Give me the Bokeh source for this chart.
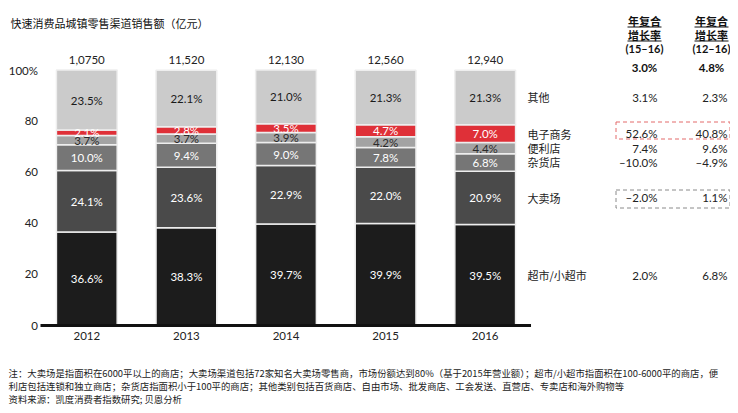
import numpy as np
from bokeh.plotting import figure
from bokeh.models import Range1d, ColumnDataSource
from bokeh.embed import file_html
from bokeh.resources import INLINE
from bokeh.core.properties import value

# ---------------- data ----------------
years = ["2012", "2013", "2014", "2015", "2016"]
totals = ["1,0750", "11,520", "12,130", "12,560", "12,940"]
channels = ["超市/小超市", "大卖场", "杂货店", "便利店", "电子商务", "其他"]
supermarket = [36.6, 38.3, 39.7, 39.9, 39.5]
hypermarket = [24.1, 23.6, 22.9, 22.0, 20.9]
grocery = [10.0, 9.4, 9.0, 7.8, 6.8]
convenience = [3.7, 3.7, 3.9, 4.2, 4.4]
ecommerce = [2.1, 2.8, 3.5, 4.7, 7.0]
others = [23.5, 22.1, 21.0, 21.3, 21.3]
cagr_15_16 = ["2.0%", "–2.0%", "–10.0%", "7.4%", "52.6%", "3.1%"]
cagr_12_16 = ["6.8%", "1.1%", "–4.9%", "9.6%", "40.8%", "2.3%"]
total_cagr = ["3.0%", "4.8%"]
header_periods = ["(15–16)", "(12–16)"]
y_ticks = [0, 20, 40, 60, 80, 100]
y_tick_labels = ["0", "20", "40", "60", "80", "100%"]
title = "快速消费品城镇零售渠道销售额（亿元）"
notes = [
    "注：大卖场是指面积在6000平以上的商店；大卖场渠道包括72家知名大卖场零售商，市场份额达到80%（基于2015年营业额）；超市/小超市指面积在100-6000平的商店，便",
    "利店包括连锁和独立商店；杂货店指面积小于100平的商店；其他类别包括百货商店、自由市场、批发商店、工会发送、直营店、专卖店和海外购物等",
    "资料来源：凯度消费者指数研究; 贝恩分析",
]

# ---------------- styles ----------------
colors = ["#1c1c1c", "#4a4a4a", "#767676", "#a3a3a3", "#df3038", "#cbcbcb"]
label_colors = ["white", "white", "white", "#2a2a2a", "white", "#1a1a1a"]
CJK = value("Noto Sans CJK SC")
NUM = value("Lato")

# pixel helpers for placing annotation text
PX_X = 99.6   # px per category
PX_Y = 2.555  # px per percent
def wx(px):
    return (px - 86.3) / PX_X
def wy(py):
    return (325.0 - py) / PX_Y

W, H = 730, 405
p = figure(width=W, height=H, output_backend="svg", toolbar_location=None,
           x_range=Range1d(wx(0), wx(W)), y_range=Range1d(wy(H), wy(0)),
           x_axis_location=None, y_axis_location=None,
           min_border_left=0, min_border_right=0, min_border_top=0,
           min_border_bottom=0, outline_line_color=None,
           background_fill_color="white", border_fill_color="white")
p.grid.visible = False

xs = list(range(len(years)))
series = [supermarket, hypermarket, grocery, convenience, ecommerce, others]
keys = ["s%d" % i for i in range(len(series))]
src = ColumnDataSource(dict(x=xs, **{k: v for k, v in zip(keys, series)}))
p.vbar_stack(keys, x="x", width=0.61, color=colors, line_color="#eeeeee",
             line_width=1.5, source=src)

# y tick labels
p.text(x=[wx(37.5)] * len(y_ticks), y=y_ticks, text=y_tick_labels,
       text_align="right", text_baseline="middle", text_font=NUM,
       text_font_size="11.5px", text_color="#222222")

# segment labels
arr = np.array(series)
cum = np.cumsum(arr, axis=0)
mids = cum - arr / 2
for i in range(len(series)):
    s = ColumnDataSource(dict(x=xs, y=list(mids[i]),
                              t=["%.1f%%" % v for v in series[i]]))
    p.text(x="x", y="y", text="t", source=s, text_align="center",
           text_baseline="middle", text_font=NUM, text_font_size="11.5px",
           text_color=label_colors[i])

# totals above bars
tops = cum[-1]
p.text(x=xs, y=list(tops + 4.0), text=totals, text_align="center",
       text_baseline="middle", text_font=NUM, text_font_size="11.5px",
       text_color="#222222")

# years
p.text(x=xs, y=[wy(335)] * len(xs), text=years, text_align="center",
       text_baseline="middle", text_font=NUM, text_font_size="11.5px",
       text_color="#222222")

# baseline
p.segment(x0=[wx(40)], y0=[0], x1=[len(years) - 1 + 0.46], y1=[0],
          line_color="#111111", line_width=3)

# right-hand table rows aligned to last bar's segments
row_y = list(mids[:, -1])
p.text(x=[wx(527)] * len(channels), y=row_y, text=channels, text_align="left",
       text_baseline="middle", text_font=CJK, text_font_size="11px",
       text_color="#222222")
p.text(x=[wx(657)] * len(channels), y=row_y, text=cagr_15_16, text_align="right",
       text_baseline="middle", text_font=NUM, text_font_size="11.5px",
       text_color="#222222")
p.text(x=[wx(727)] * len(channels), y=row_y, text=cagr_12_16, text_align="right",
       text_baseline="middle", text_font=NUM, text_font_size="11.5px",
       text_color="#222222")

# headers
hx = [wx(644), wx(711)]
p.text(x=hx, y=[wy(20)] * 2, text=["年复合"] * 2, text_align="center",
       text_baseline="middle", text_font=CJK, text_font_size="11px",
       text_font_style="bold", text_color="#111111")
p.text(x=hx, y=[wy(34)] * 2, text=["增长率"] * 2, text_align="center",
       text_baseline="middle", text_font=CJK, text_font_size="11px",
       text_font_style="bold", text_color="#111111")
p.text(x=hx, y=[wy(48)] * 2, text=header_periods, text_align="center",
       text_baseline="middle", text_font=NUM, text_font_size="11px",
       text_font_style="bold", text_color="#111111")
p.text(x=hx, y=[wy(66.5)] * 2, text=total_cagr, text_align="center",
       text_baseline="middle", text_font=NUM, text_font_size="11.5px",
       text_font_style="bold", text_color="#111111")
# underlines under header words
p.segment(x0=[wx(627), wx(694), wx(627), wx(694)],
          y0=[wy(26.5), wy(26.5), wy(40.5), wy(40.5)],
          x1=[wx(661), wx(728), wx(661), wx(728)],
          y1=[wy(26.5), wy(26.5), wy(40.5), wy(40.5)],
          line_color="#111111", line_width=1)

# dashed boxes
def dbox(x0, x1, y0, y1, color):
    p.line(x=[wx(x0), wx(x1), wx(x1), wx(x0), wx(x0)],
           y=[wy(y0), wy(y0), wy(y1), wy(y1), wy(y0)],
           line_color=color, line_width=1, line_dash="4 3")
dbox(615.5, 729.5, 121.5, 138.5, "#e36a6a")
dbox(615.5, 729.5, 189.5, 207.5, "#8a8a8a")

# title
p.text(x=[wx(10)], y=[wy(22)], text=[title], text_align="left",
       text_baseline="middle", text_font=CJK, text_font_size="11px",
       text_color="#111111")

# footnotes
p.text(x=[wx(8)] * 3, y=[wy(372), wy(385), wy(398)], text=notes,
       text_align="left", text_baseline="middle", text_font=CJK,
       text_font_size="9.4px", text_color="#222222")

open("out.html", "w").write(file_html(p, INLINE))
